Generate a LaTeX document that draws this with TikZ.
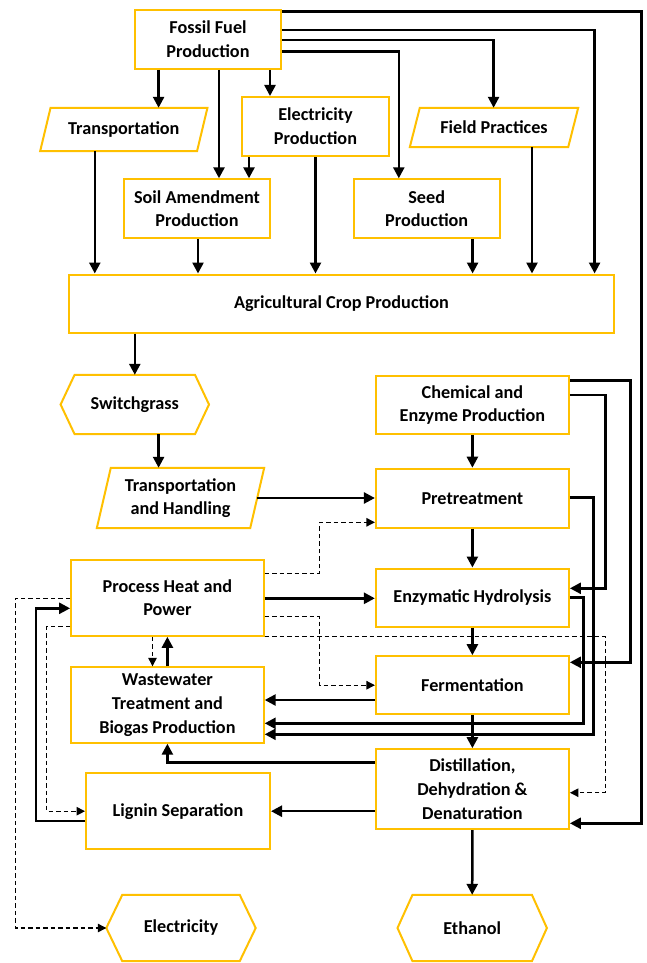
\documentclass[tikz,border=0pt]{standalone}
\usepackage{fontspec}
\setmainfont{Carlito}
\usetikzlibrary{arrows.meta,calc}
\definecolor{gold}{HTML}{FFC000}
\newcommand\drawhexa[2]{\draw[outl] (#1.west) -- ([xshift=#2]#1.north west) -- ([xshift=-#2]#1.north east) -- (#1.east) -- ([xshift=-#2]#1.south east) -- ([xshift=#2]#1.south west) -- cycle;}
\newcommand\drawpara[2]{\draw[outl] ([xshift=#2]#1.north west) -- ([xshift=#2]#1.north east) -- ([xshift=-#2]#1.south east) -- ([xshift=-#2]#1.south west) -- cycle;}
\begin{document}
\begin{tikzpicture}[x=1pt,y=-1pt,
  txt/.style={inner sep=0pt, align=center, font=\fontsize{18.2}{23.7}\selectfont\bfseries},
  box/.style={txt, draw=gold, line width=2pt, fill=white},
  outl/.style={draw=gold, line width=2pt},
  arr/.style={line width=2.5pt, -{Triangle[length=11pt,width=11pt]}},
  darr/.style={line width=1.2pt, dash pattern=on 4.5pt off 3pt, -{Triangle[length=8.5pt,width=8.5pt]}}]
\fill[white] (0,0) rectangle (646,963);
\useasboundingbox (0,0) rectangle (646,963);
% nodes
\node[box, minimum width=146pt, minimum height=59pt] (ff) at (208,39.5) {Fossil Fuel\\Production};
\node[txt, minimum width=156.5pt, minimum height=43pt] (tr) at (123.8,129.5) {Transportation};
\drawpara{tr}{5.2}
\node[box, minimum width=147pt, minimum height=59pt] (ep) at (315.5,126.5) {Electricity\\Production};
\node[txt, minimum width=158pt, minimum height=39pt] (fp) at (494,127.5) {Field Practices};
\drawpara{fp}{5}
\node[box, minimum width=146pt, minimum height=59pt] (sa) at (197,208.8) {Soil Amendment\\Production};
\node[box, minimum width=146pt, minimum height=59pt] (sp) at (426.7,208.8) {Seed\\Production};
\node[box, minimum width=545pt, minimum height=58pt] (ag) at (341.4,303.5) {Agricultural Crop Production};
\node[txt, minimum width=148pt, minimum height=59pt] (sg) at (134.8,404.5) {Switchgrass};
\drawhexa{sg}{14}
\node[txt, minimum width=153pt, minimum height=60pt] (th) at (180.5,498) {Transportation\\and Handling};
\drawpara{th}{7}
\node[box, minimum width=193pt, minimum height=58pt] (ce) at (472.4,405) {Chemical and\\Enzyme Production};
\node[box, minimum width=193pt, minimum height=59pt] (pt) at (472.4,498.2) {Pretreatment};
\node[box, minimum width=192.6pt, minimum height=76pt] (ph) at (167.4,597.8) {Process Heat and\\Power};
\node[box, minimum width=193pt, minimum height=58pt] (eh) at (472.4,597.5) {Enzymatic Hydrolysis};
\node[box, minimum width=192.6pt, minimum height=75.4pt] (ww) at (167.4,705) {Wastewater\\Treatment and\\Biogas Production};
\node[box, minimum width=193pt, minimum height=58pt] (fe) at (472.4,685.2) {Fermentation};
\node[box, minimum width=193pt, minimum height=80pt] (dd) at (472.4,789.2) {Distillation,\\Dehydration \&\\Denaturation};
\node[box, minimum width=184pt, minimum height=76pt] (ls) at (178,811.2) {Lignin Separation};
\node[txt, minimum width=149pt, minimum height=66pt] (el) at (181,928) {Electricity};
\drawhexa{el}{16}
\node[txt, minimum width=149pt, minimum height=66pt] (et) at (472.2,928) {Ethanol};
\drawhexa{et}{15}
% connectors from fossil fuel
\draw[arr] (ff.south -| 158.6,0) -- (tr.north -| 158.6,0);
\draw[arr] (ff.south -| 219,0) -- (sa.north -| 219,0);
\draw[arr] (ff.south -| 270,0) -- (ep.north -| 270,0);
\draw[arr] (ff.east |- 0,51.7) -| (sp.north -| 398.8,0);
\draw[arr] (ff.east |- 0,40) -| (fp.north -| 493.6,0);
\draw[arr] (ff.east |- 0,30) -| (ag.north -| 594.6,0);
\draw[arr] (ff.east |- 0,11.7) -| (641.3,823.3) -- (dd.east |- 0,823.3);
\draw[arr] (ep.south -| 249,0) -- (sa.north -| 249,0);
% into agriculture
\draw[arr] (tr.south -| 94.8,0) -- (ag.north -| 94.8,0);
\draw[arr] (sa.south -| 198,0) -- (ag.north -| 198,0);
\draw[arr] (ep.south) -- (ag.north -| ep.south);
\draw[arr] (sp.south -| 472.6,0) -- (ag.north -| 472.6,0);
\draw[arr] (fp.south -| 532,0) -- (ag.north -| 532,0);
\draw[arr] (ag.south -| sg.north) -- (sg.north);
\draw[arr] (sg.south -| 158.6,0) -- (th.north -| 158.6,0);
% conversion chain
\draw[arr] (th.east) -- (pt.west |- th.east);
\draw[arr] (ce.south) -- (pt.north);
\draw[arr] (ce.east |- 0,380.7) -| (630.4,662.3) -- (fe.east |- 0,662.3);
\draw[arr] (ce.east |- 0,395) -| (605.3,588.3) -- (eh.east |- 0,588.3);
\draw[arr] (pt.east |- 0,497.7) -| (593.3,734.3) -- (ww.east |- 0,734.3);
\draw[arr] (pt.south) -- (eh.north);
\draw[arr] (ph.east |- 0,598.3) -- (eh.west |- 0,598.3);
\draw[darr] (ph.east |- 0,573.3) -| (319.7,522.3) -- (pt.west |- 0,522.3);
\draw[darr] (ph.east |- 0,616.7) -| (319.7,685.2) -- (fe.west);
\draw[arr] (eh.south) -- (fe.north);
\draw[arr] (eh.east |- 0,597.7) -| (583.3,723.3) -- (ww.east |- 0,723.3);
\draw[arr] (fe.west |- 0,700) -- (ww.east |- 0,700);
\draw[arr] (fe.south) -- (dd.north);
\draw[darr] (ph.south east) -| (605.3,792.7) -- (dd.east |- 0,792.7);
\draw[darr] (ph.south -| 152.5,0) -- (ww.north -| 152.5,0);
\draw[arr] (ww.north) -- (ph.south);
\draw[arr] (dd.west |- 0,762.7) -| (ww.south);
\draw[arr] (dd.west |- ls.east) -- (ls.east);
\draw[arr] (ls.west |- 0,821) -| (35.8,608.3) -- (ph.west |- 0,608.3);
\draw[darr] (ph.west |- 0,598.3) -| (15.2,928) -- (el.west);
\draw[darr] (ph.west |- 0,626.7) -| (46.6,811.2) -- (ls.west);
\draw[arr] (dd.south) -- (et.north);
\end{tikzpicture}
\end{document}
